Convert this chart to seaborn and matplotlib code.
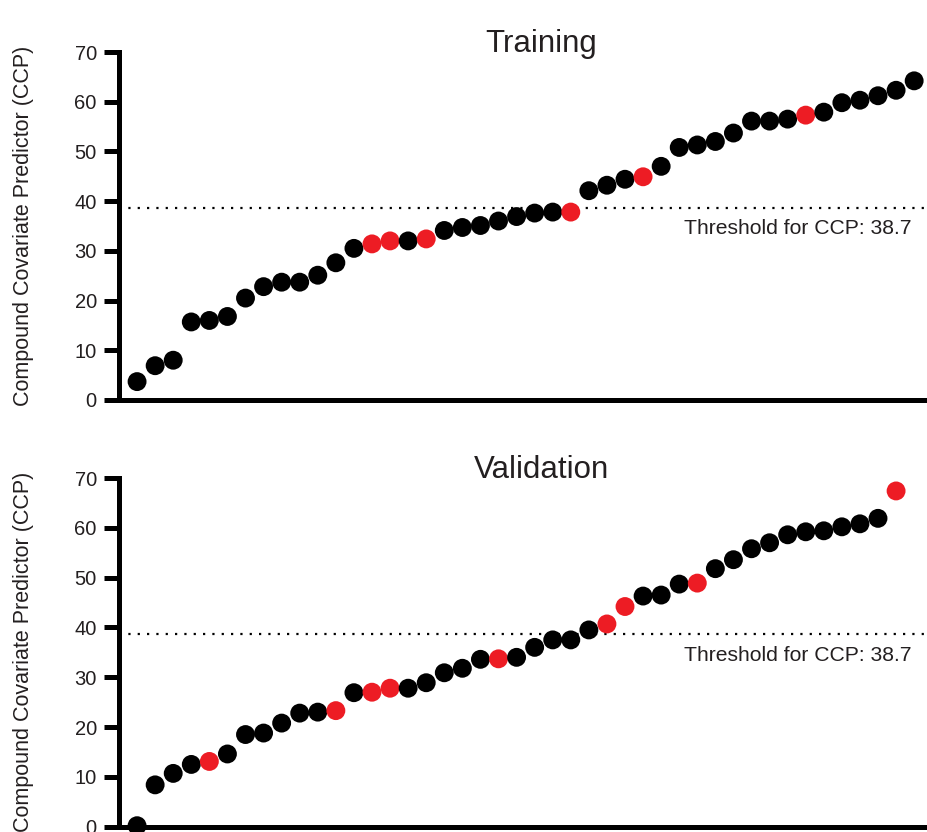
import numpy as np
import pandas as pd
import matplotlib
matplotlib.use("Agg")
import matplotlib.pyplot as plt
import seaborn as sns

# CCP values per sample, sorted ascending; flag = 1 marks the red samples
train_ccp = [3.7, 6.9, 8.0, 15.7, 16.0, 16.8, 20.5, 22.8, 23.7, 23.7,
             25.1, 27.6, 30.5, 31.4, 32.0, 32.0, 32.4, 34.1, 34.7, 35.1,
             36.0, 36.9, 37.6, 37.8, 37.8, 42.1, 43.2, 44.4, 44.9, 47.0,
             50.8, 51.3, 52.0, 53.7, 56.1, 56.1, 56.5, 57.3, 57.9, 59.8,
             60.3, 61.2, 62.3, 64.2]
train_flag = [0, 0, 0, 0, 0, 0, 0, 0, 0, 0,
              0, 0, 0, 1, 1, 0, 1, 0, 0, 0,
              0, 0, 0, 0, 1, 0, 0, 0, 1, 0,
              0, 0, 0, 0, 0, 0, 0, 1, 0, 0,
              0, 0, 0, 0]

valid_ccp = [0.2, 8.4, 10.7, 12.5, 13.1, 14.6, 18.5, 18.8, 20.8, 22.8,
             23.0, 23.3, 26.9, 27.0, 27.8, 27.8, 28.9, 30.9, 31.8, 33.6,
             33.7, 34.0, 36.0, 37.5, 37.5, 39.5, 40.7, 44.2, 46.3, 46.5,
             48.7, 48.9, 51.8, 53.6, 55.8, 57.0, 58.6, 59.2, 59.4, 60.2,
             60.8, 61.9, 67.4]
valid_flag = [0, 0, 0, 0, 1, 0, 0, 0, 0, 0,
              0, 1, 0, 1, 1, 0, 0, 0, 0, 0,
              1, 0, 0, 0, 0, 0, 1, 1, 0, 0,
              0, 1, 0, 0, 0, 0, 0, 0, 0, 0,
              0, 0, 1]

threshold = 38.7
yticks = [0, 10, 20, 30, 40, 50, 60, 70]
panel_titles = ["Training", "Validation"]

sns.set_style("ticks")
plt.rcParams["font.family"] = ["Liberation Sans", "DejaVu Sans"]

fig = plt.figure(figsize=(9.27, 8.32), dpi=100)
ax_top = fig.add_axes([119 / 927, 432 / 832, 806 / 927, 348 / 832])
ax_bot = fig.add_axes([119 / 927, 5.3 / 832, 806 / 927, 348.7 / 832])

palette = {0: "black", 1: "#ED1C24"}
text_col = "#231F20"

for ax, ccp, flag, title in [(ax_top, train_ccp, train_flag, panel_titles[0]),
                             (ax_bot, valid_ccp, valid_flag, panel_titles[1])]:
    df = pd.DataFrame({"rank": np.arange(len(ccp)), "ccp": ccp, "flag": flag})
    sns.scatterplot(data=df, x="rank", y="ccp", hue="flag", palette=palette,
                    s=185, linewidth=0, legend=False, clip_on=False, zorder=3, ax=ax)

    ax.axhline(threshold, color="black", linestyle=(0, (1, 3.2)), linewidth=1.6, zorder=1)
    ax.text(0.984, threshold - 4.3, "Threshold for CCP: " + str(threshold),
            transform=ax.get_yaxis_transform(), ha="right", va="center",
            fontsize=15.2, color=text_col)
    ax.text(0.524, 1.022, title, transform=ax.transAxes, ha="center", va="center",
            fontsize=22.5, color=text_col)

    ax.set_xlim(-1, 43.6)
    ax.set_ylim(0, 70)
    ax.set_yticks(yticks)
    ax.set_xticks([])
    ax.set_xlabel("")
    ax.set_ylabel("Compound Covariate Predictor (CCP)", fontsize=15.5, color=text_col,
                  va="center")
    ax.yaxis.set_label_coords(-0.118, 0.5)
    ax.tick_params(axis="y", direction="out", length=10.5, width=3.6, pad=5.5,
                   labelsize=14.5, labelcolor=text_col, color="black")

    sns.despine(ax=ax)
    for side in ["left", "bottom"]:
        ax.spines[side].set_linewidth(3.6)
        ax.spines[side].set_color("black")

fig.savefig("out.png", dpi=100, facecolor="white")
